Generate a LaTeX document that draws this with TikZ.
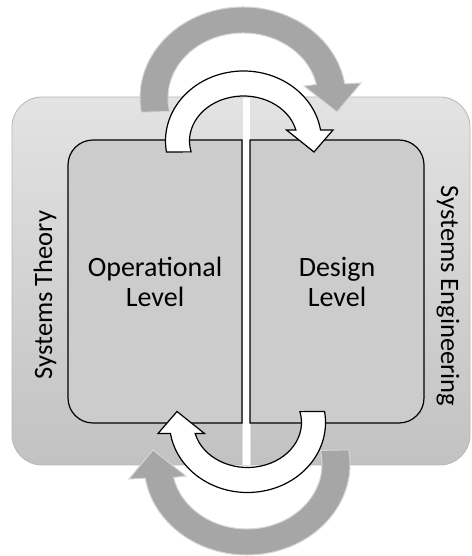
\documentclass[tikz,border=0pt]{standalone}
\usepackage{fontspec}
\setmainfont{Carlito}
\usetikzlibrary{positioning}
\tikzset{
 outerbox/.style
  = {draw=black!28, line width=0.8pt, top color=black!11, bottom color=black!24,
     rounded corners=30pt},
 stripe/.style
  = {fill=white, draw=black!12, line width=0.4pt},
 lvl/.style
  = {draw=black, line width=1.2pt, fill=black!20},
 lbl/.style
  = {font=\fontsize{28}{30}\selectfont, align=center, inner sep=0pt},
 side/.style
  = {font=\fontsize{26.5}{30}\selectfont, inner sep=0pt},
 wa/.style
  = {draw=black, line width=1.2pt, fill=white},
 ga/.style
  = {draw=black!16, line width=1pt, fill=black!35},
 wbend/.pic
  = {\draw[wa] (189:78 and 70) arc[start angle=189, end angle=9, x radius=78, y radius=70]
       -- (89.5,11) -- (70.5,-11) -- (43,11)
       -- (14:54 and 45) arc[start angle=14, end angle=194, x radius=54, y radius=45] -- cycle;},
 gbend/.pic
  = {\draw[ga] (189:103 and 91) arc[start angle=189, end angle=9, x radius=103, y radius=91]
       -- (118,15) -- (94,-14) -- (61,12)
       -- (12:75 and 65) arc[start angle=12, end angle=192, x radius=75, y radius=65] -- cycle;},
}

\begin{document}
\begin{tikzpicture}[x=1pt, y=1pt]
    \useasboundingbox (0,0) rectangle (471,556);

    % background frame, split in two halves
    \draw [outerbox] (12,91) rectangle (470,459);
    \draw [stripe] (242,91) rectangle (250,459);

    % grey loop arrows
    \coordinate (gtop) at (243,458);
    \coordinate (gbot) at (247,92);
    \pic at (gtop) {gbend};
    \pic [rotate=180] at (gbot) {gbend};

    % the two levels
    \draw [lvl] (242,133) -- (93,133) arc[start angle=270, end angle=180, radius=25]
      -- (68,391) arc[start angle=180, end angle=90, radius=25] -- (242,416) -- cycle;
    \draw [lvl] (250,133) -- (399,133) arc[start angle=270, end angle=360, radius=25]
      -- (424,391) arc[start angle=0, end angle=90, radius=25] -- (250,416) -- cycle;

    % white loop arrows
    \coordinate (wtop) at (243.5,415);
    \coordinate (wbot) at (247.5,133.5);
    \pic at (wtop) {wbend};
    \pic [rotate=180] at (wbot) {wbend};

    \node [lbl] (oper) at (155,274.5) {Operational\\Level};
    \node [lbl] (design) at (337,274.5) {Design\\Level};
    \node [side, rotate=90] (theory) at (45,261) {Systems Theory};
    \node [side, rotate=-90] (engineering) at (448,260) {Systems Engineering};
  \end{tikzpicture}
\end{document}
